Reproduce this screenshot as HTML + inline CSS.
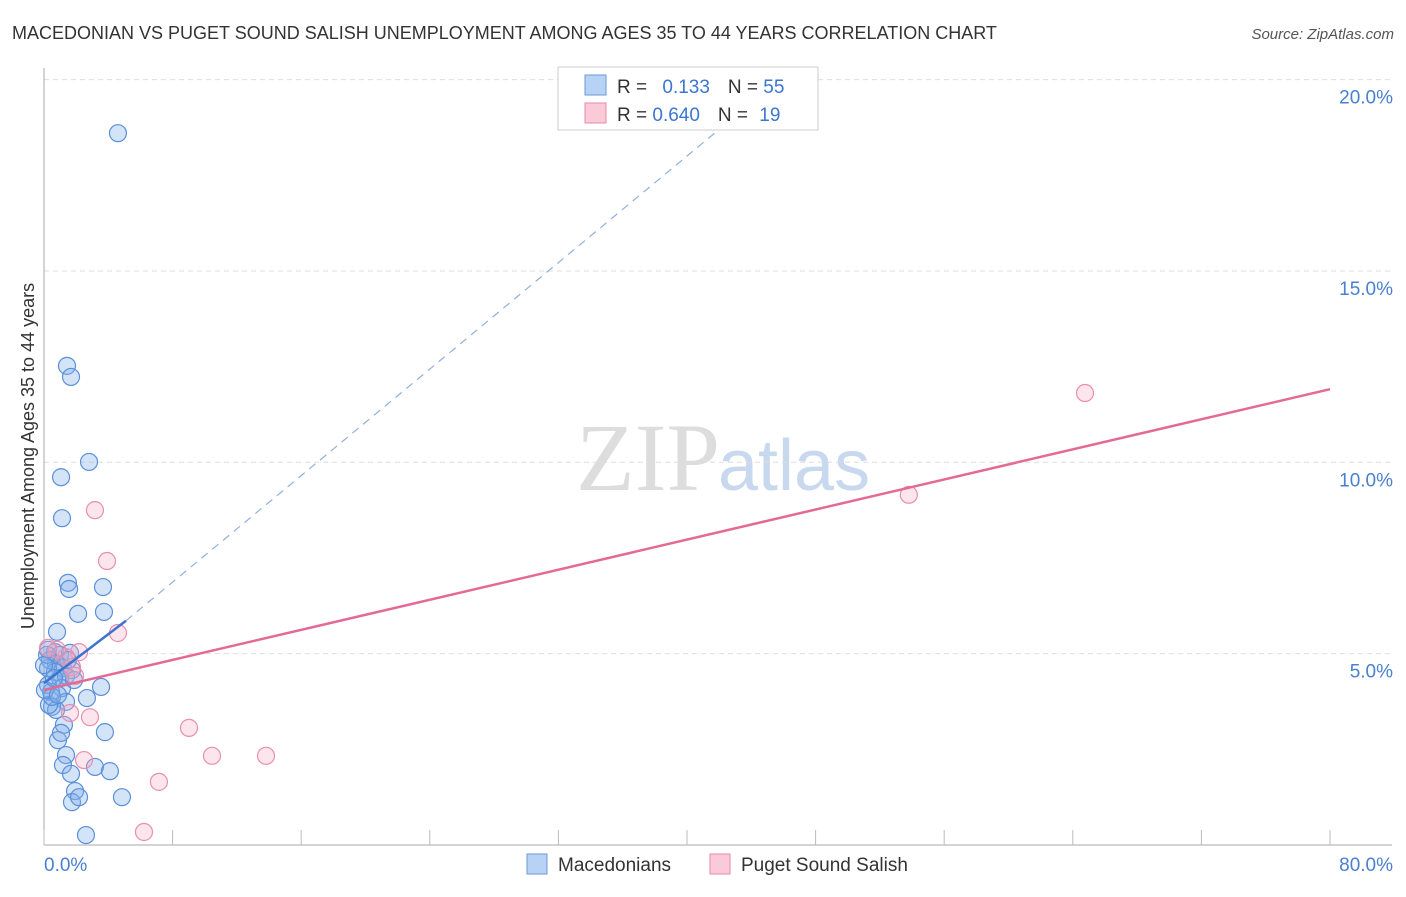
<!DOCTYPE html>
<html><head><meta charset="utf-8"><style>
body{margin:0;background:#fff;font-family:"Liberation Sans",sans-serif;}
svg text{font-family:"Liberation Sans",sans-serif;}
</style></head><body>
<svg id="c" width="1406" height="892" xmlns="http://www.w3.org/2000/svg">
<text x="12" y="39" font-size="18" fill="#333">MACEDONIAN VS PUGET SOUND SALISH UNEMPLOYMENT AMONG AGES 35 TO 44 YEARS CORRELATION CHART</text>
<text x="1394" y="39" font-size="15" fill="#555" font-style="italic" text-anchor="end">Source: ZipAtlas.com</text>
<text x="720" y="490" font-size="96" fill="#ddd" text-anchor="end" font-family="Liberation Serif" style="font-family:'Liberation Serif',serif">ZIP</text>
<text x="718" y="490" font-size="72" fill="#c8d8ee">atlas</text>
<text transform="translate(34,456) rotate(-90)" font-size="18" fill="#333" text-anchor="middle">Unemployment Among Ages 35 to 44 years</text>
<g id="grid"></g><g id="dots"></g><g id="lines"></g>
<g>
<rect x="558" y="67" width="260" height="63" fill="#fff" stroke="#ccc"/>
<rect x="585" y="75" width="21" height="20" fill="#b8d2f5" stroke="#6a9ad8"/>
<rect x="585" y="103" width="21" height="20" fill="#fbcad8" stroke="#e88aa8"/>
<text x="617" y="93" font-size="19" fill="#333">R = <tspan fill="#3b76d0" dx="10">0.133</tspan><tspan fill="#333" dx="18">N = </tspan><tspan fill="#3b76d0">55</tspan></text>
<text x="617" y="121" font-size="19" fill="#333">R = <tspan fill="#3b76d0">0.640</tspan><tspan fill="#333" dx="18">N = </tspan><tspan fill="#3b76d0" dx="6">19</tspan></text>
</g>
<g>
<rect x="527" y="854" width="20" height="20" fill="#b8d2f5" stroke="#6a9ad8"/>
<text x="558" y="871" font-size="19" fill="#333">Macedonians</text>
<rect x="710" y="854" width="20" height="20" fill="#fbcad8" stroke="#e88aa8"/>
<text x="741" y="871" font-size="19" fill="#333">Puget Sound Salish</text>
</g>
</svg>
<script>
const blueX=[4.6,1.43,1.68,2.8,1.06,1.12,1.49,1.56,3.67,2.12,3.73,0.81,0.25,0.68,1.0,1.62,0.37,0.75,1.18,1.74,0.25,0.68,1.0,1.37,0.25,1.12,1.87,0.44,3.55,2.67,1.37,0.5,0.75,0.31,1.24,0.87,3.79,1.06,1.37,1.18,3.17,4.1,1.68,1.93,1.74,2.18,4.85,2.61,0.5,0.06,0.19,0,0.87,1.49,0.62];
const blueY=[18.6,12.52,12.23,10.01,9.61,8.54,6.85,6.69,6.74,6.04,6.09,5.57,5.1,5.04,4.97,5.02,4.83,4.73,4.62,4.57,4.62,4.52,4.36,4.42,4.18,4.1,4.31,4.0,4.13,3.84,3.74,3.61,3.53,3.66,3.14,2.74,2.95,2.93,2.35,2.09,2.04,1.93,1.86,1.41,1.12,1.25,1.25,0.26,3.87,4.05,4.97,4.7,3.92,4.83,4.36];
const pinkX=[3.17,3.92,4.6,2.18,1.37,0.81,0.25,1.74,1.93,1.62,2.86,2.49,9.02,10.45,13.81,7.15,6.22,53.8,64.76];
const pinkY=[8.75,7.42,5.54,5.04,4.91,5.1,5.15,4.65,4.42,3.45,3.34,2.22,3.06,2.33,2.33,1.65,0.34,9.15,11.81];
const xTicks=[0,8,16,24,32,40,48,56,64,72,80];
const yTicks=[5,10,15,20];
const blueLine=[[0,4.23],[5.1,5.86],[43.3,19.15]];
const pinkLine=[[0,4.05],[80,11.91]];
const NS='http://www.w3.org/2000/svg';
const X=v=>44+v*16.075, Y=v=>845-v*38.27;
function mk(t,a,p){const e=document.createElementNS(NS,t);for(const k in a)e.setAttribute(k,a[k]);p.appendChild(e);return e;}
const g=document.getElementById('grid');
for(const t of yTicks){
 const l=mk('line',{x1:44,x2:1392,y1:Y(t),y2:Y(t),stroke:'#ddd','stroke-dasharray':'5,4'},g);
 
 
 const tx=mk('text',{x:1393,y:Y(t)+24,'font-size':19,fill:'#4a80d0','text-anchor':'end'},g);tx.textContent=t.toFixed(1)+'%';
 
 
}
const ax=mk('line',{x1:44,x2:44,y1:68,y2:845,stroke:'#aaa'},g);


const bx=mk('line',{x1:44,x2:1392,y1:845,y2:845,stroke:'#aaa'},g);


for(const t of xTicks){const l=mk('line',{x1:X(t),x2:X(t),y1:830,y2:845,stroke:'#bbb'},g);
 
 }
[[0,'start'],[80,'end']].forEach(([v,a])=>{const t=mk('text',{x:v==0?44:1393,y:871,'font-size':19,fill:'#4a80d0','text-anchor':a},g);t.textContent=v.toFixed(1)+'%';
 
 });
const d=document.getElementById('dots');
blueX.forEach((x,i)=>{const c=mk('circle',{cx:X(x),cy:Y(blueY[i]),r:8.5,fill:'rgba(130,175,235,0.35)',stroke:'#5b90d8','stroke-width':1.2},d);
 
 });
pinkX.forEach((x,i)=>{const c=mk('circle',{cx:X(x),cy:Y(pinkY[i]),r:8.5,fill:'rgba(245,170,195,0.3)',stroke:'#e890ac','stroke-width':1.2},d);
 
 });
const L=document.getElementById('lines');
const b1=mk('line',{x1:X(blueLine[0][0]),y1:Y(blueLine[0][1]),x2:X(blueLine[1][0]),y2:Y(blueLine[1][1]),stroke:'#3a74d0','stroke-width':2.5},L);


const b2=mk('line',{x1:X(blueLine[1][0]),y1:Y(blueLine[1][1]),x2:X(blueLine[2][0]),y2:Y(blueLine[2][1]),stroke:'#8fb0e0','stroke-width':1.2,'stroke-dasharray':'8,6'},L);


const p1=mk('line',{x1:X(pinkLine[0][0]),y1:Y(pinkLine[0][1]),x2:X(pinkLine[1][0]),y2:Y(pinkLine[1][1]),stroke:'#e46a96','stroke-width':2.5},L);


</script>
</body></html>
